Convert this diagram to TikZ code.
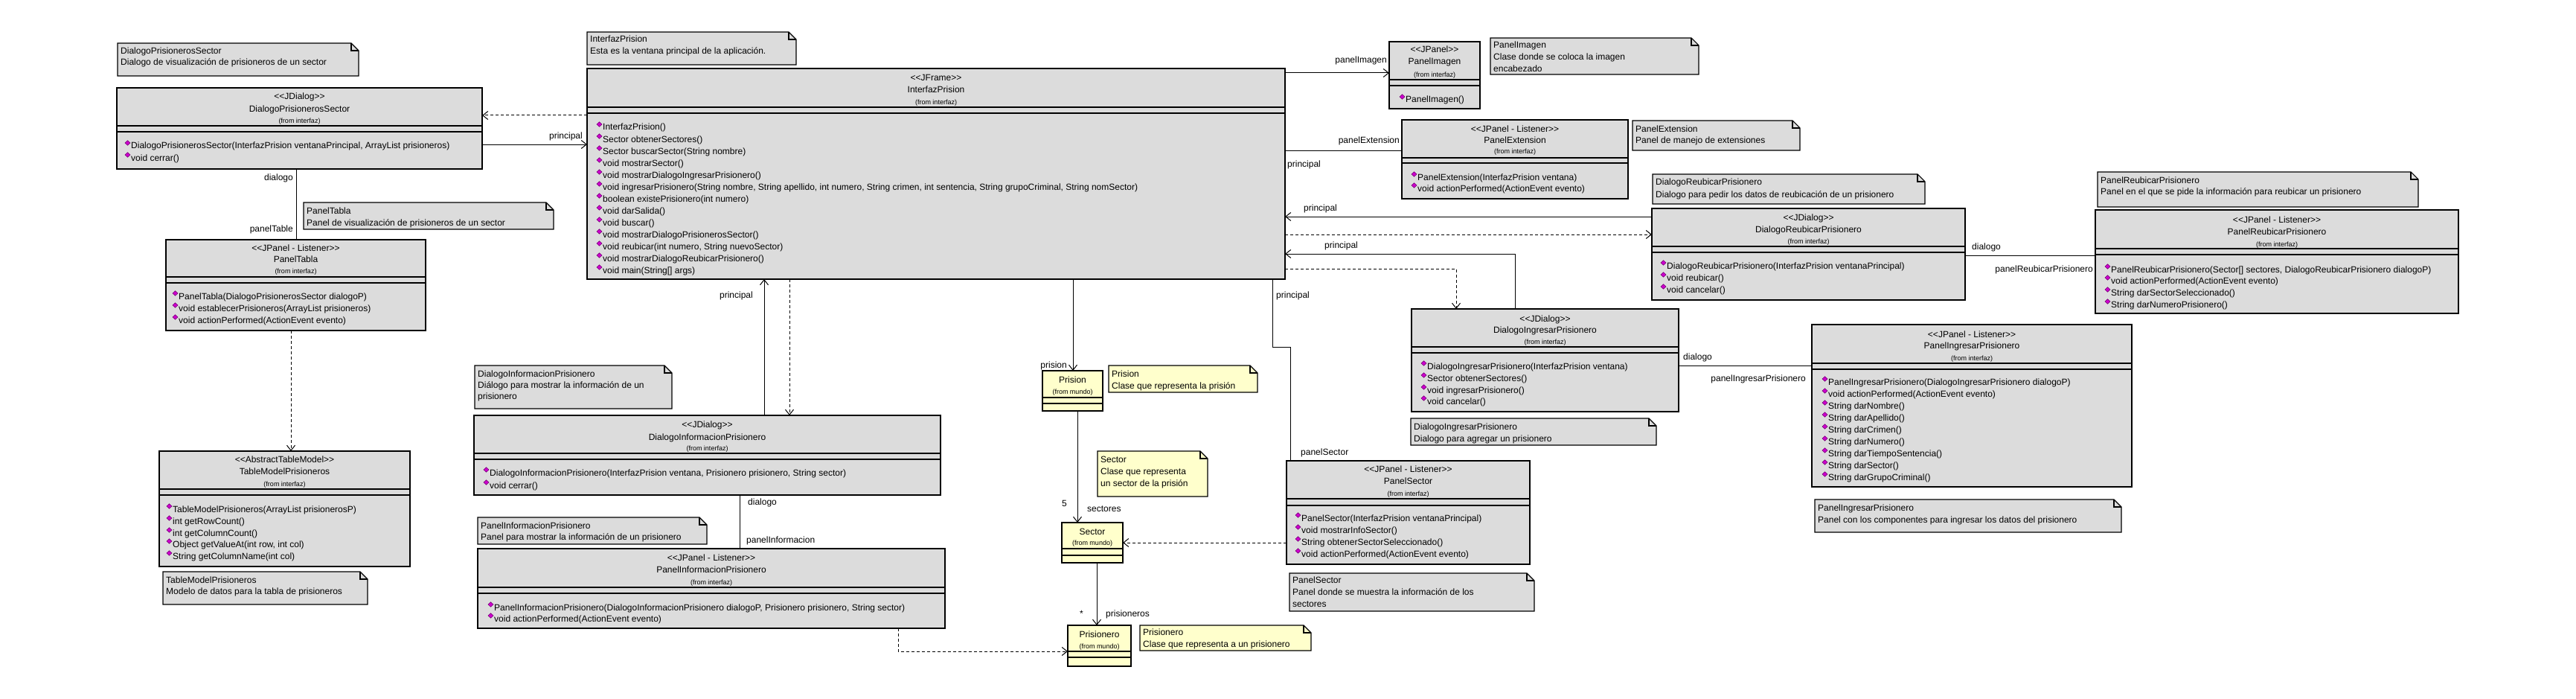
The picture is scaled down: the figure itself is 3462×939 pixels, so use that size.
\documentclass[tikz,border=0pt]{standalone}
\usepackage{fontspec}
\setmainfont{Liberation Sans}
\usetikzlibrary{arrows.meta}
\definecolor{boxgray}{RGB}{220,220,220}
\definecolor{mundo}{RGB}{255,255,204}
\definecolor{diaf}{RGB}{204,0,204}
\definecolor{diad}{RGB}{110,0,110}
\newcommand\fs{\fontsize{12}{14}\selectfont}
\newcommand\fsm{\fontsize{9}{10}\selectfont}
\newcommand\st[1]{<\kern0pt<#1>\kern0pt>}
\tikzset{
 box/.style={draw, line width=1.2pt, inner sep=0pt, outer sep=0pt},
 sepl/.style={line width=1.2pt},
 txt/.style={inner sep=0pt, font=\fs, text height=9pt, text depth=1pt},
 tt/.style={txt},
 fr/.style={inner sep=0pt, font=\fsm, text height=7pt, text depth=0.5pt},
 mtxt/.style={txt, anchor=west},
 lblw/.style={txt, anchor=west},
 lble/.style={txt, anchor=east},
 notel/.style={line width=1.1pt},
 dia/.style={fill=diaf, draw=diad, line width=0.5pt},
 conn/.style={line width=1pt},
 assoc/.style={conn, -{Straight Barb[length=7pt,width=11pt,line width=1pt]}},
 dep/.style={conn, dash pattern=on 4pt off 3pt, -{Straight Barb[length=7pt,width=11pt,line width=1pt]}},
}
\newcommand\umlbox[8]{%
 \node[box, fill=#8, minimum width={(#4)-(#2)}, minimum height={(#5)-(#3)}, anchor=north west] (#1) at (#2,#3) {};
 \draw[sepl] (#2,#6) -- (#4,#6) (#2,#7) -- (#4,#7);}
\newcommand\mt[3]{%
 \filldraw[dia] (#1,#2-4) -- ++(3.5,-3.2) -- ++(3.5,3.2) -- ++(-3.5,3.2) -- cycle;
 \node[mtxt] at (#1+8,#2) {#3};}
\newcommand\notebox[5]{%
 \filldraw[notel, fill=#5] (#1,#2) -- ({#3-10},#2) -- (#3,{#2+10}) -- (#3,#4) -- (#1,#4) -- cycle;
 \draw[notel] ({#3-10},#2) -- ({#3-10},{#2+10}) -- (#3,{#2+10});}
\newcommand\nt[3]{\node[txt, anchor=west] at (#1,#2) {#3};}
\newcommand\ctitle[6]{%
 \node[tt] at (#1,#2) {\st{#3}};
 \node[tt] at (#1,#4) {#5};
 \node[fr] at (#1,#6) {(from interfaz)};}
\newcommand\mtitle[4]{%
 \node[tt] at (#1,#2) {#3};
 \node[fr] at (#1,#4) {(from mundo)};}
\begin{document}
\begin{tikzpicture}[x=1pt,y=-1pt]
\fill[white] (0,0) rectangle (3462,939);
\useasboundingbox (0,0) rectangle (3462,939);

% ---------- notes ----------
\notebox{158}{58}{482}{102}{boxgray}
\nt{162}{69}{DialogoPrisionerosSector}
\nt{162}{84}{Dialogo de visualización de prisioneros de un sector}

\notebox{408}{272}{744}{308}{boxgray}
\nt{412}{283}{PanelTabla}
\nt{412}{299}{Panel de visualización de prisioneros de un sector}

\notebox{219}{768}{494}{812}{boxgray}
\nt{223}{779}{TableModelPrisioneros}
\nt{223}{794}{Modelo de datos para la tabla de prisioneros}

\notebox{789}{43}{1070}{87}{boxgray}
\nt{793}{53}{InterfazPrision}
\nt{793}{69}{Esta es la ventana principal de la aplicación.}

\notebox{638}{491}{903}{549}{boxgray}
\nt{642}{502}{DialogoInformacionPrisionero}
\nt{642}{517}{Diálogo para mostrar la información de un}
\nt{642}{532}{prisionero}

\notebox{642}{695}{950}{731}{boxgray}
\nt{646}{706}{PanelInformacionPrisionero}
\nt{646}{721}{Panel para mostrar la información de un prisionero}

\notebox{1490}{491}{1690}{527}{mundo}
\nt{1494}{502}{Prision}
\nt{1494}{518}{Clase que representa la prisión}

\notebox{1475}{606}{1623}{667}{mundo}
\nt{1479}{617}{Sector}
\nt{1479}{633}{Clase que representa}
\nt{1479}{649}{un sector de la prisión}

\notebox{1532}{840}{1762}{874}{mundo}
\nt{1536}{849}{Prisionero}
\nt{1536}{865}{Clase que representa a un prisionero}

\notebox{1733}{770}{2062}{821}{boxgray}
\nt{1737}{779}{PanelSector}
\nt{1737}{795}{Panel donde se muestra la información de los}
\nt{1737}{811}{sectores}

\notebox{1896}{562}{2226}{598}{boxgray}
\nt{1900}{573}{DialogoIngresarPrisionero}
\nt{1900}{589}{Dialogo para agregar un prisionero}

\notebox{2439}{671}{2851}{715}{boxgray}
\nt{2443}{682}{PanelIngresarPrisionero}
\nt{2443}{698}{Panel con los componentes para ingresar los datos del prisionero}

\notebox{2003}{51}{2283}{100}{boxgray}
\nt{2007}{61}{PanelImagen}
\nt{2007}{77}{Clase donde se coloca la imagen}
\nt{2007}{93}{encabezado}

\notebox{2194}{162}{2419}{202}{boxgray}
\nt{2198}{173}{PanelExtension}
\nt{2198}{188}{Panel de manejo de extensiones}

\notebox{2221}{234}{2587}{274}{boxgray}
\nt{2225}{244}{DialogoReubicarPrisionero}
\nt{2225}{261}{Dialogo para pedir los datos de reubicación de un prisionero}

\notebox{2819}{231}{3250}{278}{boxgray}
\nt{2823}{242}{PanelReubicarPrisionero}
\nt{2823}{257}{Panel en el que se pide la información para reubicar un prisionero}

% ---------- classes ----------
\umlbox{dps}{157}{118}{648}{227}{169}{177}{boxgray}
\ctitle{402.5}{130}{JDialog}{147}{DialogoPrisionerosSector}{162}
\mt{168}{196}{DialogoPrisionerosSector(InterfazPrision ventanaPrincipal, ArrayList prisioneros)}
\mt{168}{212}{void cerrar()}

\umlbox{ptabla}{223}{322}{572}{444}{372}{380}{boxgray}
\ctitle{397.5}{333}{JPanel - Listener}{348}{PanelTabla}{364}
\mt{232}{398}{PanelTabla(DialogoPrisionerosSector dialogoP)}
\mt{232}{414}{void establecerPrisioneros(ArrayList prisioneros)}
\mt{232}{430}{void actionPerformed(ActionEvent evento)}

\umlbox{tm}{214}{606}{551}{761}{657}{665}{boxgray}
\ctitle{382.5}{617}{AbstractTableModel}{633}{TableModelPrisioneros}{650}
\mt{224}{684}{TableModelPrisioneros(ArrayList prisionerosP)}
\mt{224}{700}{int getRowCount()}
\mt{224}{716}{int getColumnCount()}
\mt{224}{731}{Object getValueAt(int row, int col)}
\mt{224}{747}{String getColumnName(int col)}

\umlbox{ip}{789}{92}{1727}{375}{144}{152}{boxgray}
\ctitle{1258}{105}{JFrame}{121}{InterfazPrision}{137}
\mt{802}{171}{InterfazPrision()}
\mt{802}{187}{Sector obtenerSectores()}
\mt{802}{203}{Sector buscarSector(String nombre)}
\mt{802}{219}{void mostrarSector()}
\mt{802}{235}{void mostrarDialogoIngresarPrisionero()}
\mt{802}{251}{void ingresarPrisionero(String nombre, String apellido, int numero, String crimen, int sentencia, String grupoCriminal, String nomSector)}
\mt{802}{267}{boolean existePrisionero(int numero)}
\mt{802}{283}{void darSalida()}
\mt{802}{299}{void buscar()}
\mt{802}{315}{void mostrarDialogoPrisionerosSector()}
\mt{802}{331}{void reubicar(int numero, String nuevoSector)}
\mt{802}{347}{void mostrarDialogoReubicarPrisionero()}
\mt{802}{363}{void main(String[] args)}

\umlbox{dip}{637}{558}{1264}{665}{609}{617}{boxgray}
\ctitle{950.5}{570}{JDialog}{587}{DialogoInformacionPrisionero}{602}
\mt{650}{635}{DialogoInformacionPrisionero(InterfazPrision ventana, Prisionero prisionero, String sector)}
\mt{650}{652}{void cerrar()}

\umlbox{pip}{642}{737}{1270}{844}{789}{797}{boxgray}
\ctitle{956}{749}{JPanel - Listener}{765}{PanelInformacionPrisionero}{782}
\mt{656}{816}{PanelInformacionPrisionero(DialogoInformacionPrisionero dialogoP, Prisionero prisionero, String sector)}
\mt{656}{831}{void actionPerformed(ActionEvent evento)}

\umlbox{prision}{1401}{498}{1482}{552}{534}{542}{mundo}
\mtitle{1441.5}{510}{Prision}{526}
\umlbox{sector}{1427}{702}{1509}{756}{737}{746}{mundo}
\mtitle{1468}{714}{Sector}{729}
\umlbox{prisionero}{1435}{840}{1520}{895}{875}{883}{mundo}
\mtitle{1477.5}{852}{Prisionero}{868}

\umlbox{psector}{1729}{619}{2056}{758}{670}{679}{boxgray}
\ctitle{1892.5}{630}{JPanel - Listener}{646}{PanelSector}{663}
\mt{1741}{696}{PanelSector(InterfazPrision ventanaPrincipal)}
\mt{1741}{712}{void mostrarInfoSector()}
\mt{1741}{728}{String obtenerSectorSeleccionado()}
\mt{1741}{744}{void actionPerformed(ActionEvent evento)}

\umlbox{pimagen}{1867}{56}{1989}{146}{107}{115}{boxgray}
\ctitle{1928}{67}{JPanel}{83}{PanelImagen}{100}
\mt{1881}{134}{PanelImagen()}

\umlbox{pext}{1884}{161}{2188}{267}{212}{219}{boxgray}
\ctitle{2036}{173}{JPanel - Listener}{188}{PanelExtension}{203}
\mt{1897}{238}{PanelExtension(InterfazPrision ventana)}
\mt{1897}{253}{void actionPerformed(ActionEvent evento)}

\umlbox{dr}{2220}{280}{2641}{403}{331}{339}{boxgray}
\ctitle{2430.5}{292}{JDialog}{308}{DialogoReubicarPrisionero}{324}
\mt{2232}{357}{DialogoReubicarPrisionero(InterfazPrision ventanaPrincipal)}
\mt{2232}{373}{void reubicar()}
\mt{2232}{389}{void cancelar()}

\umlbox{di}{1897}{415}{2256}{553}{466}{474}{boxgray}
\ctitle{2076.5}{428}{JDialog}{443}{DialogoIngresarPrisionero}{459}
\mt{1910}{492}{DialogoIngresarPrisionero(InterfazPrision ventana)}
\mt{1910}{508}{Sector obtenerSectores()}
\mt{1910}{524}{void ingresarPrisionero()}
\mt{1910}{539}{void cancelar()}

\umlbox{pingp}{2435}{436}{2865}{654}{488}{496}{boxgray}
\ctitle{2650}{449}{JPanel - Listener}{464}{PanelIngresarPrisionero}{481}
\mt{2449}{513}{PanelIngresarPrisionero(DialogoIngresarPrisionero dialogoP)}
\mt{2449}{529}{void actionPerformed(ActionEvent evento)}
\mt{2449}{545}{String darNombre()}
\mt{2449}{561}{String darApellido()}
\mt{2449}{577}{String darCrimen()}
\mt{2449}{593}{String darNumero()}
\mt{2449}{609}{String darTiempoSentencia()}
\mt{2449}{625}{String darSector()}
\mt{2449}{641}{String darGrupoCriminal()}

\umlbox{prp}{2816}{282}{3304}{421}{334}{342}{boxgray}
\ctitle{3060}{295}{JPanel - Listener}{311}{PanelReubicarPrisionero}{328}
\mt{2829}{362}{PanelReubicarPrisionero(Sector[] sectores, DialogoReubicarPrisionero dialogoP)}
\mt{2829}{377}{void actionPerformed(ActionEvent evento)}
\mt{2829}{393}{String darSectorSeleccionado()}
\mt{2829}{409}{String darNumeroPrisionero()}

% ---------- connectors ----------
\draw[dep] (ip.west |- 0,155) -- (dps.east |- 0,155);
\draw[assoc] (dps.east |- 0,194) -- (ip.west |- 0,194);
\node[lble] at (783,182) {principal};
\draw[conn] (398,0 |- dps.south) -- (398,0 |- ptabla.north);
\node[lble] at (394,238) {dialogo};
\node[lble] at (394,307) {panelTable};
\draw[dep] (391,0 |- ptabla.south) -- (391,0 |- tm.north);

\draw[assoc] (1027,0 |- dip.north) -- (1027,0 |- ip.south);
\node[lble] at (1012,396) {principal};
\draw[dep] (1061,0 |- ip.south) -- (1061,0 |- dip.north);
\draw[conn] (994,0 |- dip.south) -- (994,0 |- pip.north);
\node[lblw] at (1005,674) {dialogo};
\node[lblw] at (1003,725) {panelInformacion};
\draw[dep] (1207,0 |- pip.south) |- (prisionero.west |- 0,875);

\draw[assoc] (1442,0 |- ip.south) -- (1442,0 |- prision.north);
\node[lble] at (1434,490) {prision};
\draw[assoc] (1448,0 |- prision.south) -- (1448,0 |- sector.north);
\node[lble] at (1434,676) {5};
\node[lblw] at (1461,683) {sectores};
\draw[assoc] (1474,0 |- sector.south) -- (1474,0 |- prisionero.north);
\node[lble] at (1456,824) {*};
\node[lblw] at (1486,824) {prisioneros};
\draw[dep] (psector.west |- 0,729) -- (sector.east |- 0,729);

\coordinate (bendA) at (1710,466);
\coordinate (bendB) at (1734,466);
\draw[conn] (1710,0 |- ip.south) -- (bendA) -- (bendB) -- (1734,0 |- psector.north);
\node[lblw] at (1715,396) {principal};
\node[lblw] at (1748,607) {panelSector};

\draw[assoc] (ip.east |- 0,98) -- (pimagen.west |- 0,98);
\node[lble] at (1864,81) {panelImagen};
\draw[conn] (ip.east |- 0,202) -- (pext.west |- 0,202);
\node[lble] at (1881,189) {panelExtension};
\node[lblw] at (1730,220) {principal};
\draw[assoc] (dr.west |- 0,291) -- (ip.east |- 0,291);
\node[lblw] at (1752,279) {principal};
\draw[dep] (ip.east |- 0,315) -- (dr.west |- 0,315);
\draw[assoc] (2036,0 |- di.north) |- (ip.east |- 0,341);
\node[lblw] at (1780,329) {principal};
\draw[dep] (ip.east |- 0,361) -| (1957,0 |- di.north);

\draw[conn] (dr.east |- 0,343) -- (prp.west |- 0,343);
\node[lblw] at (2650,331) {dialogo};
\node[lble] at (2813,361) {panelReubicarPrisionero};
\draw[conn] (di.east |- 0,491) -- (pingp.west |- 0,491);
\node[lblw] at (2262,479) {dialogo};
\node[lble] at (2427,508) {panelIngresarPrisionero};
\end{tikzpicture}
\end{document}
